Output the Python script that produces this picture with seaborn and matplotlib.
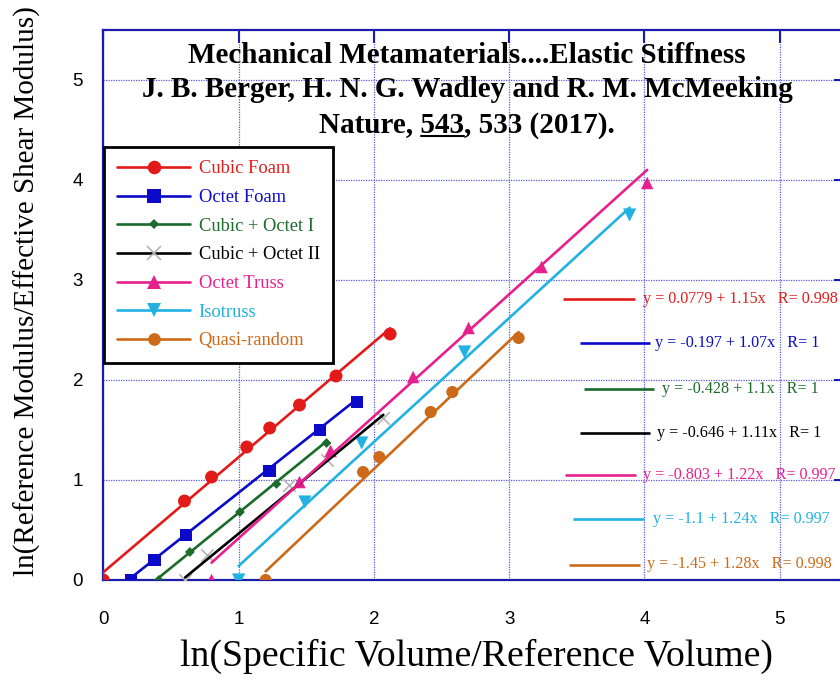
import numpy as np
import pandas as pd
import matplotlib
matplotlib.use("Agg")
import matplotlib.pyplot as plt
from matplotlib.lines import Line2D
import seaborn as sns

# ---------------- data ----------------
series_names = ["Cubic Foam", "Octet Foam", "Cubic + Octet I", "Cubic + Octet II",
                "Octet Truss", "Isotruss", "Quasi-random"]

cubic_foam_x = [0.0, 0.60, 0.80, 1.06, 1.23, 1.45, 1.72, 2.12]
cubic_foam_y = [0.0, 0.79, 1.03, 1.33, 1.52, 1.75, 2.04, 2.46]
octet_foam_x = [0.205, 0.377, 0.61, 1.23, 1.60, 1.875]
octet_foam_y = [0.0, 0.20, 0.45, 1.09, 1.50, 1.78]
cubic_octet1_x = [0.41, 0.64, 1.01, 1.28, 1.65]
cubic_octet1_y = [0.0, 0.28, 0.68, 0.96, 1.37]
cubic_octet2_x = [0.605, 0.766, 1.37, 1.65, 2.07]
cubic_octet2_y = [0.0, 0.25, 0.95, 1.20, 1.62]
octet_truss_x = [0.80, 1.45, 1.68, 2.29, 2.70, 3.24, 4.02]
octet_truss_y = [0.0, 0.98, 1.29, 2.03, 2.52, 3.13, 3.97]
isotruss_x = [1.0, 1.49, 1.91, 2.67, 3.89]
isotruss_y = [0.0, 0.78, 1.37, 2.28, 3.65]
quasi_random_x = [1.20, 1.92, 2.04, 2.42, 2.58, 3.07]
quasi_random_y = [0.0, 1.08, 1.23, 1.68, 1.88, 2.42]

fit_intercepts = [0.0779, -0.197, -0.428, -0.646, -0.803, -1.1, -1.45]
fit_slopes = [1.15, 1.07, 1.1, 1.11, 1.22, 1.24, 1.28]
fit_labels = ["y = 0.0779 + 1.15x   R= 0.998",
              "y = -0.197 + 1.07x   R= 1",
              "y = -0.428 + 1.1x   R= 1",
              "y = -0.646 + 1.11x   R= 1",
              "y = -0.803 + 1.22x   R= 0.997",
              "y = -1.1 + 1.24x   R= 0.997",
              "y = -1.45 + 1.28x   R= 0.998"]

x_ticks = [0, 1, 2, 3, 4, 5]
y_ticks = [0, 1, 2, 3, 4, 5]
x_tick_labels = ["0", "1", "2", "3", "4", "5"]
y_tick_labels = ["0", "1", "2", "3", "4", "5"]

title_lines = ["Mechanical Metamaterials....Elastic Stiffness",
               "J. B. Berger, H. N. G. Wadley and R. M. McMeeking",
               "Nature, 543, 533 (2017)."]
x_label = "ln(Specific Volume/Reference Volume)"
y_label = "ln(Reference Modulus/Effective Shear Modulus)"

# ---------------- styles ----------------
line_colors = ["#e31a1a", "#0a0ac8", "#1b6b2b", "#000000", "#e8208e", "#22b2e2", "#cc6a1a"]
marker_colors = ["#e31a1a", "#0a0ac8", "#1b6b2b", "#b4b4b4", "#e8208e", "#22b2e2", "#cc6a1a"]
markers = ["o", "s", "D", "x", "^", "v", "o"]
marker_sizes = [9.3, 9.0, 5.0, 9.0, 9.0, 9.5, 8.7]  # points

# fit key positions (data coordinates)
key_y = [2.81, 2.37, 1.91, 1.47, 1.05, 0.61, 0.155]
key_x0 = [3.40, 3.52, 3.55, 3.52, 3.41, 3.47, 3.44]
key_x1 = [3.93, 4.04, 4.07, 4.04, 3.94, 4.00, 3.97]
key_tx = [3.99, 4.08, 4.13, 4.09, 3.99, 4.06, 4.02]

sns.set_style("white")
plt.rcParams["font.family"] = ["Liberation Serif", "DejaVu Serif"]

spine_color = "#1c1caa"
grid_color = "#5a5ae6"

xs = [cubic_foam_x, octet_foam_x, cubic_octet1_x, cubic_octet2_x,
      octet_truss_x, isotruss_x, quasi_random_x]
ys = [cubic_foam_y, octet_foam_y, cubic_octet1_y, cubic_octet2_y,
      octet_truss_y, isotruss_y, quasi_random_y]

fig = plt.figure(figsize=(8.4, 6.79), dpi=100)
ax = fig.add_axes([103.3 / 840, 99 / 679, 744.1 / 840, 550 / 679])

for i, name in enumerate(series_names):
    df = pd.DataFrame({"x": xs[i], "y": ys[i]})
    ms = marker_sizes[i]
    if markers[i] == "x":
        sns.scatterplot(data=df, x="x", y="y", ax=ax, marker="x", s=ms ** 2,
                        color=marker_colors[i], linewidth=1.2, legend=False, zorder=3)
    else:
        sns.scatterplot(data=df, x="x", y="y", ax=ax, marker=markers[i], s=ms ** 2,
                        color=marker_colors[i], edgecolor="none", linewidth=0,
                        legend=False, zorder=3)
    xr = np.array([min(xs[i]), max(xs[i])])
    fit_df = pd.DataFrame({"x": xr, "y": fit_intercepts[i] + fit_slopes[i] * xr})
    sns.lineplot(data=fit_df, x="x", y="y", ax=ax, color=line_colors[i],
                 linewidth=1.9, legend=False, zorder=4)

# fit key (equations)
for i in range(len(series_names)):
    ax.plot([key_x0[i], key_x1[i]], [key_y[i], key_y[i]], color=line_colors[i],
            linewidth=1.9, zorder=4, solid_capstyle="butt")
    ax.text(key_tx[i], key_y[i], fit_labels[i], color=line_colors[i], fontsize=11.6,
            ha="left", va="center", zorder=5)

# axes
ax.set_xlim(0, 5.5)
ax.set_ylim(0, 5.5)
ax.set_xticks(x_ticks)
ax.set_yticks(y_ticks)
ax.set_xticklabels(x_tick_labels)
ax.set_yticklabels(y_tick_labels)
ax.tick_params(direction="in", length=9.5, width=1.5, color=spine_color,
               top=True, right=True, labelsize=13.5, labelcolor="black")
ax.tick_params(axis="x", pad=22.5)
ax.tick_params(axis="y", pad=14.5)
for lbl in ax.get_xticklabels() + ax.get_yticklabels():
    lbl.set_fontfamily("Liberation Sans")
for sp in ax.spines.values():
    sp.set_color(spine_color)
    sp.set_linewidth(1.6)
    sp.set_visible(True)
ax.grid(True, linestyle=(0, (1, 1)), linewidth=0.9, color=grid_color)
ax.set_axisbelow(True)

ax.set_xlabel(x_label, fontsize=27.2, color="black")
ax.set_ylabel(y_label, fontsize=21, color="black")
ax.xaxis.set_label_coords(0.5016, -0.106)
ax.yaxis.set_label_coords(-0.0837, 0.5245)

# legend
handles = [Line2D([0], [0], color=line_colors[i], linewidth=1.9, marker=markers[i],
                  markersize=marker_sizes[i] * 1.05, markerfacecolor=marker_colors[i],
                  markeredgecolor=marker_colors[i],
                  markeredgewidth=1.2 if markers[i] == "x" else 0)
           for i in range(len(series_names))]
leg = ax.legend(handles=handles, labels=series_names, loc="upper left",
                bbox_to_anchor=(0.001, 0.787), borderaxespad=0, fontsize=13.3,
                handlelength=3.95, handletextpad=0.45, labelspacing=0.63,
                borderpad=0.72, fancybox=False, framealpha=1, frameon=True)
leg.get_frame().set_edgecolor("black")
leg.get_frame().set_linewidth(2.0)
for t, c in zip(leg.get_texts(), line_colors):
    t.set_color(c)
leg.set_zorder(6)

# title inside the axes
title_x = 2.69
title_baselines = [5.17, 4.83, 4.475]
title_texts = []
for line, yb in zip(title_lines, title_baselines):
    title_texts.append(ax.text(title_x, yb, line, ha="center", va="baseline",
                               fontsize=21, fontweight="bold", color="black", zorder=5))

# underline "543"
fig.canvas.draw()
r = fig.canvas.get_renderer()
bb = title_texts[2].get_window_extent(r)
tmp1 = ax.text(0, 0, "Nature, 543", fontsize=21, fontweight="bold")
tmp2 = ax.text(0, 0, "543", fontsize=21, fontweight="bold")
w1 = tmp1.get_window_extent(r).width
w2 = tmp2.get_window_extent(r).width
tmp1.remove()
tmp2.remove()
x_end = bb.x0 + w1
x_start = x_end - w2
base_disp = ax.transData.transform((title_x, title_baselines[2]))[1]
inv = ax.transData.inverted()
p0 = inv.transform((x_start, base_disp - 3))
p1 = inv.transform((x_end, base_disp - 3))
ax.plot([p0[0], p1[0]], [p0[1], p1[1]], color="black", linewidth=1.5, zorder=5)

fig.savefig("out.png", dpi=100)
